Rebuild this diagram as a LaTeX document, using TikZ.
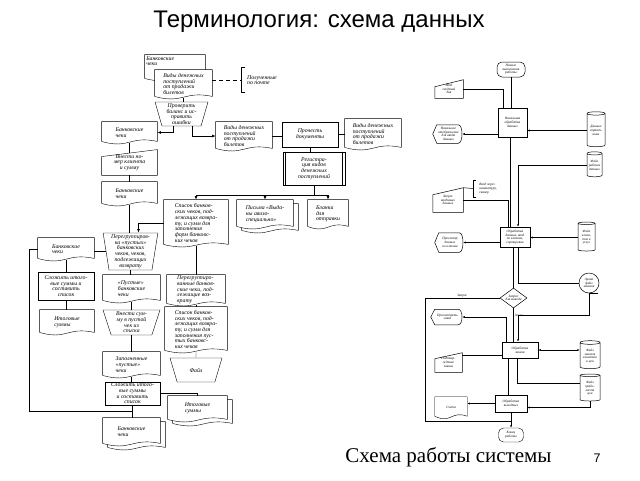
\documentclass[tikz,border=0pt]{standalone}
\usepackage{fontspec}
\setmainfont{Liberation Serif}
\newfontfamily\headfont{Liberation Sans}
\usetikzlibrary{shapes.geometric,shapes.misc,arrows.meta,calc}

\pgfdeclarelayer{paper}
\pgfsetlayers{paper,main}

\newcommand{\ltxt}{\fontsize{5.8}{5.7}\selectfont\itshape}
\newcommand{\rtxt}{\fontsize{3.4}{3.7}\selectfont\itshape}

\begin{document}
\begin{tikzpicture}[x=1pt, y=-1pt,
  sz/.style 2 args={minimum width=#1pt, minimum height=#2pt},
  blk/.style={draw, rectangle, inner sep=0.5pt, align=center},
  docu/.style={inner sep=0.5pt, align=left, append after command={\pgfextra{%
    \begin{pgfonlayer}{paper}
    \draw[line width=\pgflinewidth, fill=white] (\tikzlastnode.north west) -- (\tikzlastnode.north east)
      -- ([yshift=2pt]\tikzlastnode.south east)
      .. controls ([yshift=8pt]\tikzlastnode.south) and ([yshift=-6pt]\tikzlastnode.south)
      .. ([yshift=2pt]\tikzlastnode.south west) -- cycle;
    \end{pgfonlayer}}}},
  mdocu/.style={inner sep=0.5pt, align=left, append after command={\pgfextra{%
    \begin{pgfonlayer}{paper}
    \draw[line width=\pgflinewidth, fill=white] ([xshift=5pt,yshift=-4pt]\tikzlastnode.north west)
      -- ([xshift=5pt,yshift=-4pt]\tikzlastnode.north east)
      -- ([xshift=5pt,yshift=-2pt]\tikzlastnode.south east)
      .. controls ([xshift=5pt,yshift=4pt]\tikzlastnode.south) and ([xshift=5pt,yshift=-10pt]\tikzlastnode.south)
      .. ([xshift=5pt,yshift=-2pt]\tikzlastnode.south west) -- cycle;
    \draw[line width=\pgflinewidth, fill=white] (\tikzlastnode.north west) -- (\tikzlastnode.north east)
      -- ([yshift=2pt]\tikzlastnode.south east)
      .. controls ([yshift=8pt]\tikzlastnode.south) and ([yshift=-6pt]\tikzlastnode.south)
      .. ([yshift=2pt]\tikzlastnode.south west) -- cycle;
    \end{pgfonlayer}}}},
  manop/.style={draw, trapezium, trapezium stretches=true, shape border rotate=180,
    trapezium left angle=#1, trapezium right angle=#1, inner sep=0.5pt, align=center},
  minput/.style={inner sep=0.5pt, align=center, append after command={\pgfextra{%
    \draw ([yshift=-#1pt]\tikzlastnode.north west) -- (\tikzlastnode.north east)
      -- (\tikzlastnode.south east) -- (\tikzlastnode.south west) -- cycle;}}},
  disp/.style={inner sep=0.5pt, align=center, append after command={\pgfextra{%
    \draw ([xshift=-2pt]\tikzlastnode.west) -- ([xshift=2pt]\tikzlastnode.north west)
      -- ([xshift=-4pt]\tikzlastnode.north east)
      .. controls ([xshift=1pt]\tikzlastnode.north east) and ([xshift=1pt]\tikzlastnode.south east)
      .. ([xshift=-4pt]\tikzlastnode.south east) -- ([xshift=2pt]\tikzlastnode.south west) -- cycle;}}},
  pre/.style={blk, append after command={\pgfextra{%
    \draw ([xshift=3pt]\tikzlastnode.north west) -- ([xshift=3pt]\tikzlastnode.south west)
      ([xshift=-3pt]\tikzlastnode.north east) -- ([xshift=-3pt]\tikzlastnode.south east);}}},
  note/.style={inner sep=1pt, align=left, append after command={\pgfextra{%
    \draw ([xshift=3pt]\tikzlastnode.north west) -- (\tikzlastnode.north west)
      -- (\tikzlastnode.south west) -- ([xshift=3pt]\tikzlastnode.south west);}}},
  term/.style={draw, rectangle, rounded corners=5pt, inner sep=0.5pt, align=center},
  drum/.style={draw, cylinder, shape border rotate=90, aspect=0.25, inner sep=0.5pt, align=center},
  dec/.style={draw, diamond, aspect=1.35, inner sep=0pt, align=center},
  tape/.style={draw, circle, inner sep=0pt, align=center, append after command={\pgfextra{%
    \draw (\tikzlastnode.south) -- ([xshift=9pt]\tikzlastnode.south);}}},
  arr/.style={-{Latex[length=3.5pt,width=3pt]}},
  rarr/.style={-{Latex[length=2.5pt,width=2pt]}},
]
\useasboundingbox (0,0) rectangle (640,480);

% === TITLE ===
\node[font=\headfont\fontsize{24}{28}\selectfont, anchor=base] (title) at (319,27) {Терминология: схема данных};

% === DATA SCHEME (left) ===
\begin{scope}[line width=0.85pt, font=\ltxt]
\node[docu, sz={60}{25}, label={[anchor=north west, align=left, inner sep=1.5pt]north west:{Банковские\\чеки}}] (chk0) at (175,67.5) {};
\node[docu, sz={57}{28}] (pay1) at (183.5,84) {Виды денежных\\поступлений\\от продажи\\билетов};
\node[note, sz={40}{24}] (mail) at (262,80) {Полученные\\по почте};
\draw[dashed, dash pattern=on 4pt off 3pt] (pay1.east |- mail.west) -- (mail.west);

\node[manop=76, sz={53}{24}] (chkbal) at (181.5,114) {Проверить\\баланс и ис-\\править\\ошибки};
\draw (pay1.south) -- (pay1.south |- chkbal.north);

\node[docu, sz={55}{21}] (chk1) at (129.5,132.5) {Банковские\\чеки};
\node[docu, sz={56}{28}] (pay2) at (244,136) {Виды денежных\\поступлений\\от продажи\\билетов};
\draw[arr] ([xshift=-8.5pt]chkbal.south) |- (chk1.east);
\draw[arr] ([xshift=10.5pt]chkbal.south) |- (pay2.west);

\node[blk, sz={56}{25}] (read) at (310,134.5) {Прочесть\\документы};
\node[docu, sz={56}{30}] (pay3) at (373,134) {Виды денежных\\поступлений\\от продажи\\билетов};
\draw (pay2.east) -- (pay2.east -| read.west);
\draw (read.east) -- (read.east -| pay3.west);

\node[pre, sz={62}{33}] (reg) at (314,168.5) {Регистра-\\ция видов\\денежных\\поступлений};
\draw (read.south) -- (read.south |- reg.north);
\draw (reg.south) -- ++(0,10) coordinate (fork);

\node[docu, sz={64}{46}] (list1) at (196,223) {Список банков-\\ских чеков, под-\\лежащих возвра-\\ту, и сумм для\\заполнения\\форм банковс-\\ких чеков};
\node[mdocu, sz={56}{28}] (lett) at (265,214) {Письма «Выда-\\ны авизо-\\специально»};
\node[docu, sz={40}{28}] (form) at (328,214) {Бланки\\для\\отправки};
\draw[arr] (fork) -| (list1.north);
\draw[arr] (fork) -| (lett.north);
\draw[arr] (fork) -| (form.north);

\node[minput=7, sz={55}{25}] (cust) at (129.5,162.5) {Внести но-\\мер клиента\\и сумму};
\node[docu, sz={55}{23}] (chk2) at (129.5,193.5) {Банковские\\чеки};
\draw (chk1.south) -- ([yshift=-3.5pt]cust.north);
\draw (cust.south) -- (chk2.north);

\node[manop=81, sz={55}{37}] (regr) at (130.5,251.5) {Перегруппиров-\\ка «пустых»\\банковских\\чеков, чеков,\\подлежащих\\возврату};
\draw (chk2.south) -- (chk2.south |- regr.north);
\draw[arr] (list1.west) -| ([xshift=8pt]regr.north);

\node[docu, sz={57}{27}] (blank) at (131.5,288.5) {«Пустые»\\банковские\\чеки};
\node[manop=74, sz={57}{25}] (fill) at (131.5,322.5) {Внести сум-\\му в пустой\\чек из\\списка};
\node[docu, sz={57}{25}] (filled) at (131.5,364.5) {Заполненные\\«пустые»\\чеки};
\node[blk, sz={55}{23}] (sum2) at (132.5,393.5) {Сложить итого-\\вые суммы\\и составить\\список};
\node[mdocu, sz={57}{27}] (chk3) at (131.5,431.5) {Банковские\\чеки};
\node[mdocu, sz={59}{25}] (tot2) at (197.5,408.5) {Итоговые\\суммы};
\draw (regr.south) -- (regr.south |- blank.north);
\draw (blank.south) -- (blank.south |- fill.north);
\draw (fill.south) -- (fill.south |- filled.north);
\draw (filled.south) -- (filled.south |- sum2.north);
\draw (sum2.south) -- (sum2.south |- chk3.north);
\draw (sum2.east) -| (tot2.north);

\node[docu, sz={58}{30}] (regd) at (196,290) {Перегруппиро-\\ванные банков-\\ские чеки, под-\\лежащие воз-\\врату};
\node[docu, sz={62}{45}] (list2) at (196,329.5) {Список банков-\\ских чеков, под-\\лежащих возвра-\\ту, и сумм для\\заполнения пус-\\тых банковс-\\ких чеков};
\node[manop=63, sz={52}{24}] (file) at (196,370) {Файл};
\draw (list1.south) -- (regd.north);
\draw (regd.south) -- (list2.north);
\draw (list2.south) -- (file.north);

\node[docu, sz={56}{22}] (chk4) at (66,249) {Банковские\\чеки};
\node[blk, sz={56}{28}] (sum1) at (66,286) {Сложить итого-\\вые суммы и\\составить\\список};
\node[docu, sz={54}{24}] (tot1) at (67,322) {Итоговые\\суммы};
\draw (regr.west) -- (regr.west -| chk4.east);
\draw (chk4.south) -- (sum1.north);
\draw (sum1.south) -- (sum1.south |- tot1.north);
\draw (chk4.west) -- ++(-8,0) |- ($(sum2.south)!0.5!(chk3.north)$);
\end{scope}

% === SYSTEM SCHEME (right) ===
\begin{scope}[line width=0.5pt, font=\rtxt]
\node[term, sz={28}{15}] (start) at (511,69.5) {Начало\\выполнения\\работы};
\node[minput=7, sz={28}{18}] (inp1) at (449,89) {Ввод\\сведений\\дня};
\node[blk, sz={29}{29}] (proc1) at (512.5,122.5) {Начальная\\обработка\\данных};
\node[disp, sz={27}{18}] (scr1) at (448.5,134) {Начальное\\отображение\\для ввода\\данных};
\node[drum, sz={18}{35}] (base1) at (596,130.5) {Данные\\справоч-\\ника};
\node[drum, sz={15}{25}] (base2) at (594.5,165.5) {Файл\\рабочих\\данных};
\draw (start.south) -- (start.south |- proc1.north);
\draw (inp1.east) -| ([xshift=-9.5pt]proc1.north);
\draw[rarr] (proc1.west |- scr1.east) -- (scr1.east);
\draw[rarr] (base1.west) -- (base1.west -| proc1.east);

\node[minput=7, sz={30}{24}] (inp2) at (448,200) {Запрос\\вводимых\\данных};
\node[note, sz={29}{17}] (kbd) at (488,188.5) {Ввод через\\клавиатуру,\\сканер};
\node[blk, sz={30}{20}] (proc2) at (515,237) {Обработка\\данных, ввод\\по ключам,\\сортировка};
\node[disp, sz={26}{19}] (scr2) at (450,242.5) {Просмотр\\данных\\по ключам};
\node[drum, sz={17}{29}] (base3) at (586.5,237.5) {Файл\\клиен-\\тов и\\услуг};
\draw ([xshift=-2pt]proc1.south) -- ([xshift=-2pt]proc1.south |- proc2.north);
\draw[rarr] (base2.west) -| ([xshift=3pt]proc2.north);
\draw (inp2.east) -| ([xshift=-7pt]proc2.north);
\draw (inp2.north east) -- (kbd.west);
\draw[rarr] (proc2.west |- scr2.east) -- (scr2.east);
\draw[rarr] (base3.west) -- (base3.west -| proc2.east);

\node[tape, minimum size=20pt] (arch) at (589,283) {Архив\\файл\\заказов};
\node[dec, sz={27}{20}] (ask) at (513.5,298) {Запрос\\для вывода};
\node[disp, sz={29}{15}] (scr3) at (447.5,317) {Просмотреть\\заказ};
\node[blk, sz={36}{16}] (proc3) at (520,350) {Обработка\\заказа};
\node[minput=6, sz={27}{19}] (inp3) at (448.5,362.5) {Подтвер-\\ждение\\заказа};
\node[drum, sz={20}{28}] (base4) at (590,356) {Файл\\заказов\\клиентов\\и цен};
\node[drum, sz={20}{27}] (base5) at (590,388.5) {Файл\\прайс-\\листа\\цен};
\node[blk, sz={32}{17}] (proc4) at (511,403.5) {Обработка\\выходных};
\node[docu, sz={32}{21}] (bill) at (451,407.5) {Счета};
\node[term, sz={25}{14}] (stop) at (511,435) {Конец\\работы};

\draw (ask.north |- proc2.south) -- (ask.north);
\draw ([xshift=3pt]proc2.south) |- (arch.west);
\draw[rarr] (proc4.south) -- coordinate[pos=0.6] (join) (stop.north);
\draw (ask.west) -- node[above, inner sep=1pt] {Запрос} ++(-75,0) |- (join);
\draw (ask.south) -- node[right, pos=0.2, inner sep=1pt] {Заказ} (ask.south |- proc3.north);
\draw[rarr] ([xshift=-14pt]proc3.north) |- (scr3.east);
\draw[rarr] (arch.south) -- ++(0,22) -| ([xshift=-2pt]proc3.north);
\draw ([yshift=-5pt]proc3.west) -- ([yshift=-5pt]proc3.west -| inp3.east);
\draw[{Latex[length=2.5pt,width=2pt]}-{Latex[length=2.5pt,width=2pt]}] (proc3.east) -- (proc3.east -| base4.west);
\draw ([yshift=5pt]base5.west) -| ([xshift=-3pt]proc3.south);
\draw ([xshift=-12pt]proc3.south) -- ([xshift=-12pt]proc3.south |- proc4.north);
\draw[rarr] (proc4.west) -- (proc4.west -| bill.east);
\draw[rarr] (base5.south) |- ([yshift=-4pt]proc4.east);
\end{scope}

% === CAPTION ===
\node[font=\fontsize{21}{25}\selectfont, anchor=base] (caption) at (448.5,462) {Схема работы системы};
\node[font=\headfont\fontsize{12.5}{15}\selectfont, anchor=base] (pageno) at (597,462) {7};
\end{tikzpicture}
\end{document}
